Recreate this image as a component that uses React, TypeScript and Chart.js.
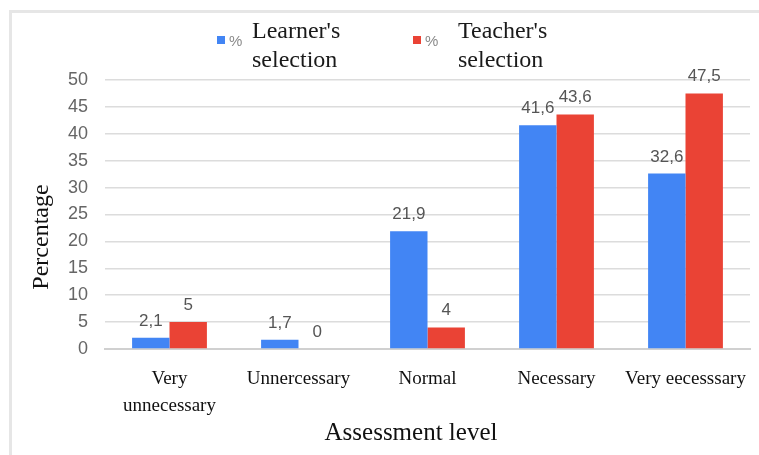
import React, { useEffect, useRef } from "react";
import { Chart, registerables } from "chart.js";

Chart.register(...registerables);

const categories: (string | string[])[] = [
  ["Very", "unnecessary"],
  "Unnercessary",
  "Normal",
  "Necessary",
  "Very eecesssary",
];
const learnerValues = [2.1, 1.7, 21.9, 41.6, 32.6];
const teacherValues = [5, 0, 4, 43.6, 47.5];
const learnerLabels = ["2,1", "1,7", "21,9", "41,6", "32,6"];
const teacherLabels = ["5", "0", "4", "43,6", "47,5"];
const seriesNames = [["Learner's", "selection"], ["Teacher's", "selection"]];
const yTicks = [0, 5, 10, 15, 20, 25, 30, 35, 40, 45, 50];
const xTitle = "Assessment level";
const yTitle = "Percentage";

const BLUE = "#4285f4";
const RED = "#ea4335";
const SERIF = "'Liberation Serif', 'Times New Roman', serif";
const SANS = "'Liberation Sans', Arial, sans-serif";

const overlayPlugin = {
  id: "overlay",
  afterDatasetsDraw(chart: any) {
    const ctx = chart.ctx;
    ctx.save();
    // value labels
    ctx.font = `17px ${SANS}`;
    ctx.fillStyle = "#555555";
    ctx.textAlign = "center";
    ctx.textBaseline = "alphabetic";
    const labelSets = [learnerLabels, teacherLabels];
    [0, 1].forEach((di) => {
      const meta = chart.getDatasetMeta(di);
      meta.data.forEach((bar: any, i: number) => {
        ctx.fillText(labelSets[di][i], bar.x, bar.y - 12);
      });
    });
    // legend
    const items = [
      { color: BLUE, sx: 217, tx: 252 },
      { color: RED, sx: 413, tx: 458 },
    ];
    items.forEach((it, k) => {
      ctx.fillStyle = it.color;
      ctx.fillRect(it.sx, 36, 8, 8);
      ctx.fillStyle = "#8a8a8a";
      ctx.font = `15px ${SANS}`;
      ctx.textAlign = "left";
      ctx.textBaseline = "middle";
      ctx.fillText("%", it.sx + 12, 42);
      ctx.fillStyle = "#1a1a1a";
      ctx.font = `24px ${SERIF}`;
      ctx.textBaseline = "alphabetic";
      ctx.fillText(seriesNames[k][0], it.tx, 38);
      ctx.fillText(seriesNames[k][1], it.tx, 67);
    });
    // axis titles
    ctx.fillStyle = "#111111";
    ctx.font = `25px ${SERIF}`;
    ctx.textAlign = "center";
    ctx.textBaseline = "middle";
    ctx.fillText(xTitle, 411, 433);
    ctx.translate(42, 237);
    ctx.rotate(-Math.PI / 2);
    ctx.font = `24px ${SERIF}`;
    ctx.fillText(yTitle, 0, 0);
    ctx.restore();
  },
};

export default function App() {
  const ref = useRef<HTMLCanvasElement>(null);
  useEffect(() => {
    document.body.style.margin = "0";
    const chart = new Chart(ref.current!, {
      type: "bar",
      data: {
        labels: categories,
        datasets: [
          {
            label: "% Learner's selection",
            data: learnerValues,
            backgroundColor: BLUE,
            categoryPercentage: 0.58,
            barPercentage: 1,
          },
          {
            label: "% Teacher's selection",
            data: teacherValues,
            backgroundColor: RED,
            categoryPercentage: 0.58,
            barPercentage: 1,
          },
        ],
      },
      options: {
        animation: false,
        responsive: false,
        layout: { padding: { left: 10, right: 9, top: 80, bottom: 5 } },
        plugins: { legend: { display: false }, tooltip: { enabled: false } },
        scales: {
          x: {
            grid: { display: false, drawTicks: false },
            border: { color: "#d0d0d0", width: 2 },
            ticks: {
              color: "#111111",
              font: { family: SERIF, size: 19, lineHeight: 1.4 },
              padding: 17,
              maxRotation: 0,
              autoSkip: false,
            },
            afterFit(scale: any) {
              scale.height = 101;
              scale.paddingLeft = 0;
              scale.paddingRight = 0;
            },
          },
          y: {
            min: 0,
            max: 50,
            afterBuildTicks(scale: any) {
              scale.ticks = yTicks.map((v) => ({ value: v }));
            },
            grid: { color: "#dcdcdc", drawTicks: false, lineWidth: 1.5 },
            border: { display: false },
            ticks: {
              color: "#666666",
              font: { family: SANS, size: 18 },
              padding: 17,
            },
            afterFit(scale: any) {
              scale.width = 95;
              scale.paddingTop = 0;
              scale.paddingBottom = 0;
            },
          },
        },
      },
      plugins: [overlayPlugin],
    });
    return () => chart.destroy();
  }, []);
  return (
    <div style={{ position: "relative", width: 759, height: 455, background: "#fff" }}>
      <div
        style={{
          position: "absolute",
          left: 9,
          top: 10,
          width: 750,
          height: 445,
          borderTop: "3px solid #e6e6e6",
          borderLeft: "3px solid #e6e6e6",
          boxSizing: "border-box",
          pointerEvents: "none",
        }}
      />
      <canvas ref={ref} width={759} height={455} style={{ position: "absolute", left: 0, top: 0 }} />
    </div>
  );
}
